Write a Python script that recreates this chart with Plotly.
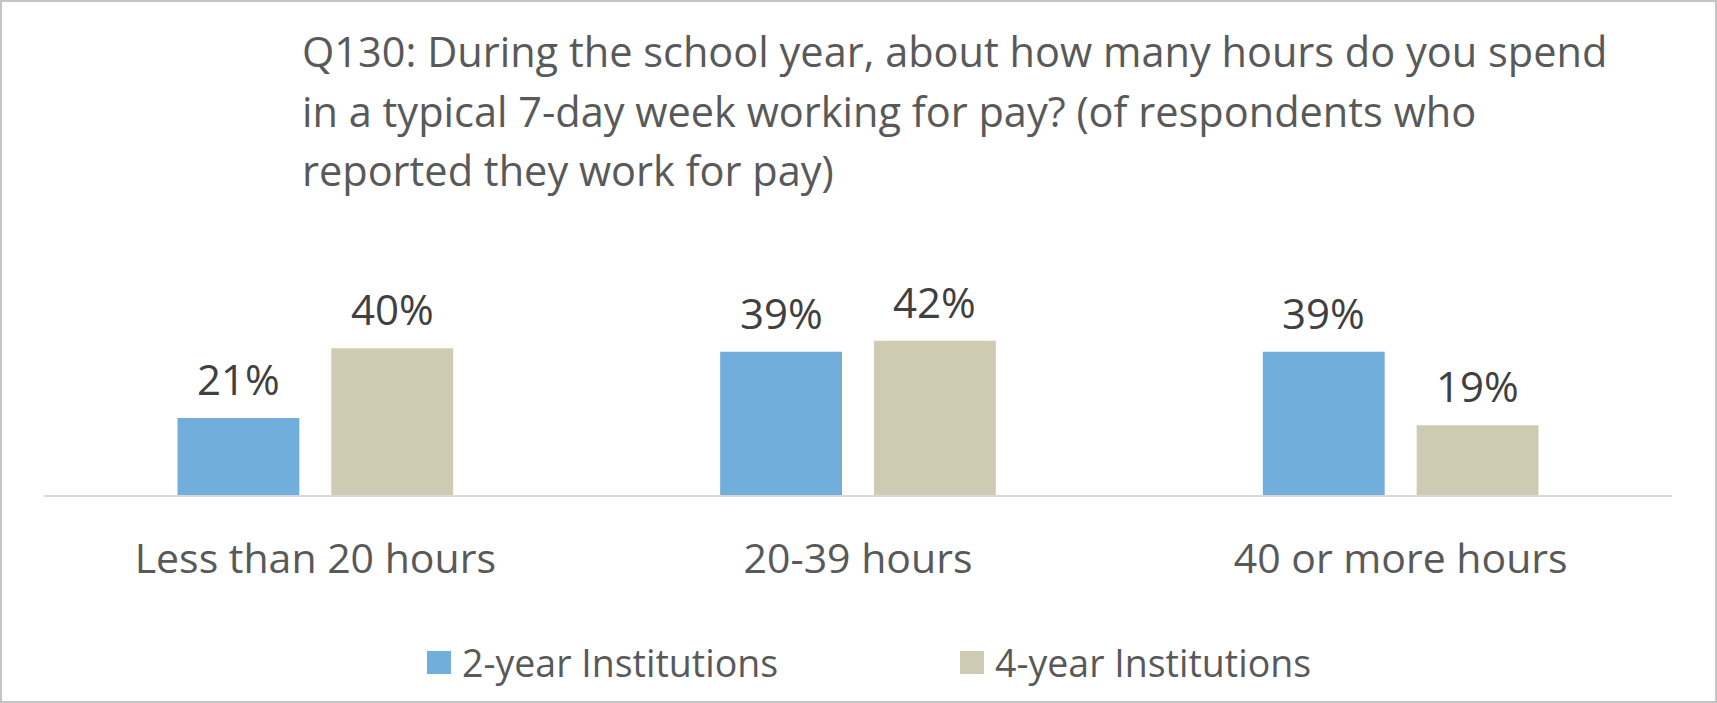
import plotly.graph_objects as go

categories = ["Less than 20 hours", "20-39 hours", "40 or more hours"]
two_year = [0.21, 0.39, 0.39]
four_year = [0.40, 0.42, 0.19]
series_names = ["2-year Institutions", "4-year Institutions"]
series_colors = ["#71AEDC", "#CFCBB3"]
title_lines = [
    "Q130: During the school year, about how many hours do you spend",
    "in a typical 7-day week working for pay? (of respondents who",
    "reported they work for pay)",
]

FONT = "Open Sans"
W, H = 1717, 703
ML, MR, MT, MB = 44, 45, 330, 208
PW = W - ML - MR
PH = H - MT - MB
BARGAP, GROUPGAP = 0.433, 0.208
SLOT = PW / len(categories) * (1 - BARGAP) / 2


# pixel -> paper helpers (y measured from top of the page)
def px_x(x):
    return (x - ML) / PW


def px_y(y):
    return (H - MB - y) / PH


fig = go.Figure()
annotations = []
for i, (name, vals, col) in enumerate(zip(series_names, [two_year, four_year], series_colors)):
    fig.add_trace(go.Bar(
        x=categories, y=vals, name=name,
        marker=dict(color=col, line=dict(width=0)),
        showlegend=False,
    ))
    # value labels above each bar
    for cat, v in zip(categories, vals):
        annotations.append(dict(
            x=cat, y=v, xref="x", yref="y", text=f"{v:.0%}", showarrow=False,
            xanchor="center", yanchor="bottom", xshift=(i - 0.5) * SLOT, yshift=9,
            font=dict(family=FONT, size=42, color="#404040"),
        ))

for i, line in enumerate(title_lines):
    annotations.append(dict(
        text=line, xref="paper", yref="paper", x=px_x(300), y=px_y(51 + 59.5 * i),
        xanchor="left", yanchor="middle", showarrow=False,
        font=dict(family=FONT, size=41.5, color="#595959"),
    ))

shapes = [dict(type="rect", xref="paper", yref="paper",
               x0=px_x(1), x1=px_x(1716), y0=px_y(702), y1=px_y(1),
               line=dict(color="#c4c4c4", width=2))]

# legend drawn by hand so the swatches match the reference size
leg_x = [427, 960]
for name, col, lx in zip(series_names, series_colors, leg_x):
    shapes.append(dict(type="rect", xref="paper", yref="paper",
                       x0=px_x(lx), x1=px_x(lx + 24), y0=px_y(674), y1=px_y(651),
                       fillcolor=col, line=dict(width=0)))
    annotations.append(dict(
        text=name, xref="paper", yref="paper", x=px_x(lx + 33), y=px_y(662),
        xanchor="left", yanchor="middle", showarrow=False,
        font=dict(family=FONT, size=37.5, color="#595959"),
    ))

fig.update_layout(
    width=W, height=H,
    margin=dict(l=ML, r=MR, t=MT, b=MB),
    paper_bgcolor="white", plot_bgcolor="white",
    barmode="group", bargap=BARGAP, bargroupgap=GROUPGAP,
    showlegend=False,
    annotations=annotations, shapes=shapes,
    xaxis=dict(showline=True, linecolor="#d9d9d9", linewidth=2, showgrid=False,
               ticks="", ticklabelstandoff=27,
               tickfont=dict(family=FONT, size=41, color="#595959")),
    yaxis=dict(range=[0, PH / 367], visible=False, showgrid=False, zeroline=False),
)

fig.write_html("out.html", config={"displayModeBar": False},
               post_script="document.body.style.margin='0';")
